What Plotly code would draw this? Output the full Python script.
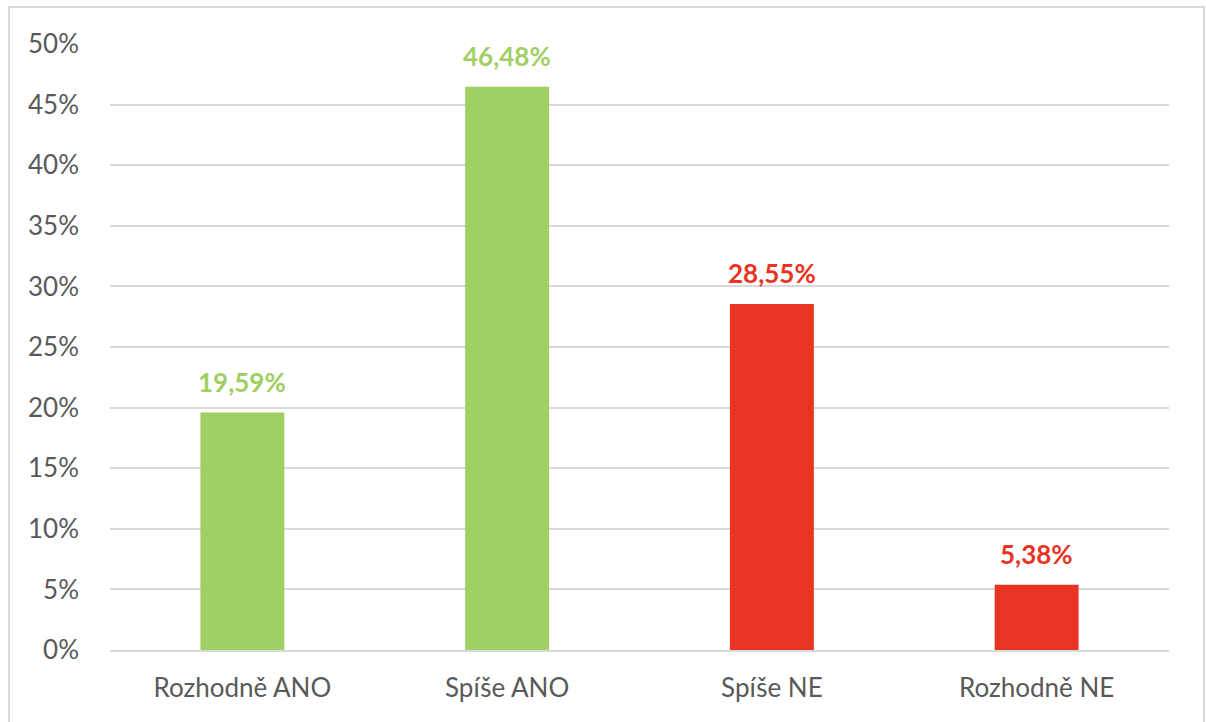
import plotly.graph_objects as go

categories = ["Rozhodně ANO", "Spíše ANO", "Spíše NE", "Rozhodně NE"]
values = [19.59, 46.48, 28.55, 5.38]
colors = ["#a0cf63", "#a0cf63", "#e93323", "#e93323"]
y_ticks = [0, 5, 10, 15, 20, 25, 30, 35, 40, 45, 50]
y_tick_labels = [f"{t}%" for t in y_ticks]

FONT = "Lato, 'Open Sans', sans-serif"

fig = go.Figure(
    go.Bar(
        x=categories,
        y=values,
        marker=dict(color=colors, line=dict(width=0)),
        hoverinfo="skip",
    )
)

# value labels above each bar, decimal comma
for cat, val, col in zip(categories, values, colors):
    fig.add_annotation(
        x=cat, y=val,
        text=f"<b>{val:.2f}".replace(".", ",") + "%</b>",
        showarrow=False, yanchor="bottom", yshift=13,
        font=dict(family=FONT, size=26, color=col),
    )

# outer frame of the chart
fig.add_shape(
    type="rect", xref="paper", yref="paper",
    x0=-0.0954, x1=1.0331, y0=-0.3, y1=1.0611,
    line=dict(color="#d9d9d9", width=2), fillcolor="rgba(0,0,0,0)", layer="below",
)

fig.update_layout(
    width=1206, height=722,
    margin=dict(l=110, r=37, t=44, b=72),
    paper_bgcolor="white", plot_bgcolor="white",
    bargap=0.683,
    showlegend=False,
    font=dict(family=FONT, size=26, color="#595959"),
    xaxis=dict(
        showgrid=False, showline=True, linecolor="#d9d9d9", linewidth=1.5,
        ticks="", ticklabelstandoff=14,
        tickfont=dict(family=FONT, size=26, color="#595959"),
    ),
    yaxis=dict(
        range=[0, 50], tickvals=y_ticks, ticktext=y_tick_labels,
        showgrid=True, gridcolor="#d9d9d9", gridwidth=1.5,
        zeroline=False, showline=False, ticks="",
        ticklabelstandoff=30,
        tickfont=dict(family=FONT, size=26, color="#595959"),
    ),
)

fig.write_html("out.html")
